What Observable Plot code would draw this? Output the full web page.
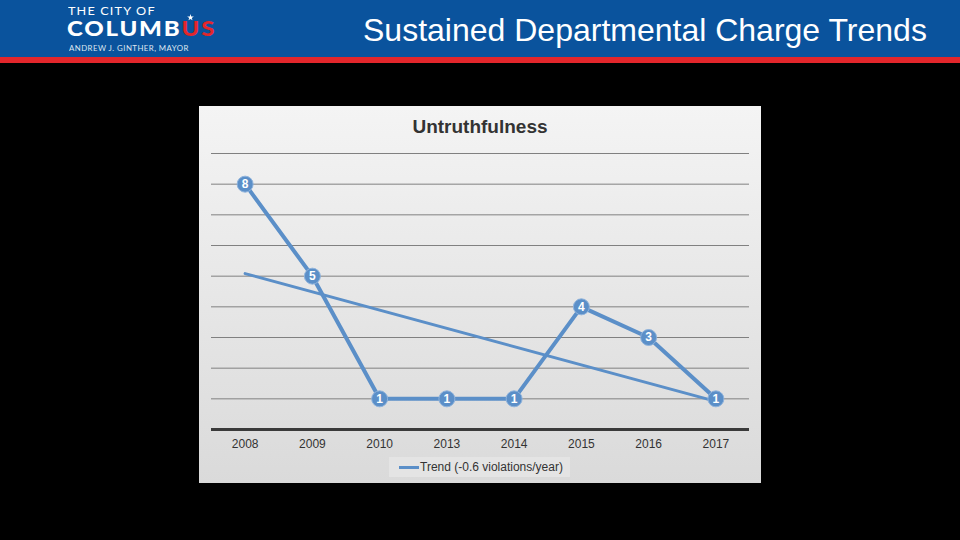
<!DOCTYPE html>
<html>
<head>
<meta charset="utf-8">
<script src="https://cdn.jsdelivr.net/npm/d3@7"></script>
<script src="https://cdn.jsdelivr.net/npm/@observablehq/plot@0.6"></script>
<style>
  html, body { margin: 0; padding: 0; background: #000; width: 960px; height: 540px; overflow: hidden; font-family: "Liberation Sans", Arial, sans-serif; }
  #header { position: absolute; left: 0; top: 0; width: 960px; height: 57px; background: #0a539d; }
  #redband { position: absolute; left: 0; top: 57px; width: 960px; height: 6px; background: #e3262b; }
  .logo { position: absolute; color: #fff; font-family: Lato, "Open Sans", sans-serif; white-space: nowrap; line-height: 1; }
  #logo1 { left: 68px; top: 5px; font-size: 11px; letter-spacing: 1px; transform: scaleX(1.15); transform-origin: left top; }
  #logo2 { left: 67px; top: 18px; font-weight: 900; font-size: 20px; letter-spacing: 1.5px; transform: scaleX(1.2); transform-origin: left top; }
  #logo2 span { color: #e3262b; }
  #star { position: absolute; left: 187px; top: 14px; width: 7px; height: 7px; background: #fff;
          clip-path: polygon(50% 0%, 61% 35%, 98% 35%, 68% 57%, 79% 91%, 50% 70%, 21% 91%, 32% 57%, 2% 35%, 39% 35%); }
  #logo3 { left: 69px; top: 45px; color: #dfe6f0; font-size: 7px; letter-spacing: 0.4px; transform: scaleX(1.12); transform-origin: left top; }
  #title { position: absolute; left: 363px; top: 14px; color: #fff; font-size: 32px; line-height: 1; font-family: "Liberation Sans", Arial, sans-serif; white-space: nowrap; }
  #panel { position: absolute; left: 199px; top: 106px; width: 562px; height: 377px; background: linear-gradient(#f4f4f4, #dadada); }
  #ctitle { position: absolute; left: 199px; top: 116px; width: 562px; text-align: center; color: #333; font-weight: bold; font-size: 19px; font-family: "Liberation Sans", Arial, sans-serif; }
  #chart { position: absolute; left: 199px; top: 140px; }
  #legend { position: absolute; left: 389px; top: 457px; width: 181px; height: 20px; background: #e4e4e4; font-size: 12px; color: #333; display: flex; align-items: center; }
  #legend .sw { display: inline-block; width: 20px; height: 3px; background: #5b8fc8; margin-left: 10px; margin-right: 1px; }
</style>
</head>
<body>
<div id="header"></div>
<div id="redband"></div>
<div id="logo1" class="logo">THE CITY OF</div>
<div id="logo2" class="logo">COLUMB<span>US</span></div>
<div id="star"></div>
<div id="logo3" class="logo">ANDREW J. GINTHER, MAYOR</div>
<div id="title">Sustained Departmental Charge Trends</div>
<div id="panel"></div>
<div id="ctitle">Untruthfulness</div>
<div id="chart"></div>
<div id="legend"><span class="sw"></span><span>Trend (-0.6 violations/year)</span></div>
<script>
const years = ["2008", "2009", "2010", "2013", "2014", "2015", "2016", "2017"];
const counts = [8, 5, 1, 1, 1, 4, 3, 1];
const gridValues = [1, 2, 3, 4, 5, 6, 7, 8, 9];

const data = years.map((y, i) => ({ i, year: y, v: counts[i] }));
const blue = "#5b8fc8";

const chart = Plot.plot({
  width: 562,
  height: 314,
  marginLeft: 12,
  marginRight: 12,
  marginTop: 13,
  marginBottom: 25,
  style: { background: "transparent", fontFamily: "Liberation Sans, Arial, sans-serif", fontSize: "12px", color: "#333" },
  x: { type: "linear", domain: [-0.5, years.length - 0.5], ticks: d3.range(years.length), tickFormat: i => years[i], tickSize: 0, tickPadding: 10, label: null },
  y: { domain: [0, 9], axis: null },
  marks: [
    Plot.gridY(gridValues, { stroke: "#808080", strokeOpacity: 1, strokeWidth: 1 }),
    Plot.ruleY([0], { stroke: "#3a3a3a", strokeWidth: 3 }),
    Plot.linearRegressionY(data, { x: "i", y: "v", ci: 0, stroke: blue, strokeWidth: 3 }),
    Plot.line(data, { x: "i", y: "v", stroke: blue, strokeWidth: 4 }),
    Plot.dot(data, { x: "i", y: "v", r: 8, fill: blue, stroke: "#8fb3dc", strokeWidth: 1 }),
    Plot.text(data, { x: "i", y: "v", text: d => String(d.v), fill: "#fff", fontWeight: "bold", fontSize: 12 })
  ]
});
document.getElementById("chart").appendChild(chart);
</script>
</body>
</html>
